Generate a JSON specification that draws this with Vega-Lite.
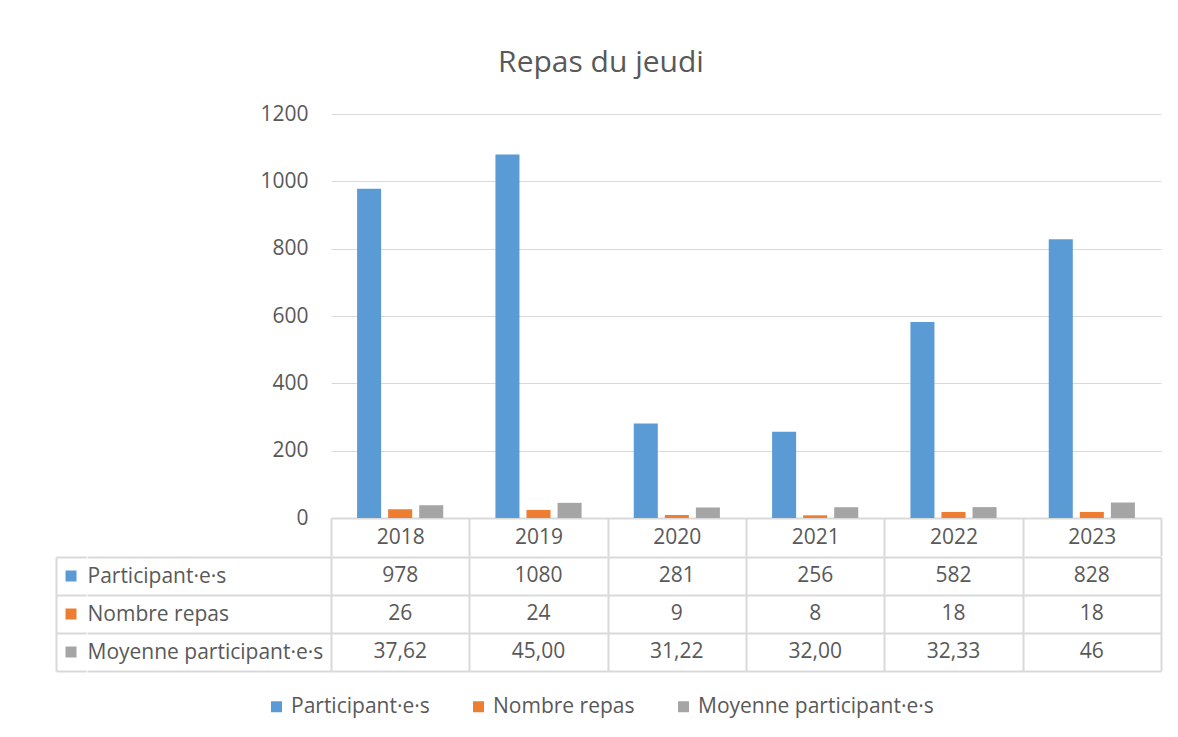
{
  "$schema": "https://vega.github.io/schema/vega-lite/v6.json",
  "padding": {"left": 56, "top": 48, "right": 10, "bottom": 10},
  "background": "white",
  "title": {"text": "Repas du jeudi", "fontSize": 30, "fontWeight": "normal", "color": "#595959", "anchor": "middle", "offset": 25, "dx": -8, "font": "Open Sans"},
  "datasets": {
    "repas": [
      {"annee": "2018", "serie": "Participant·e·s", "valeur": 978, "texte": "978"},
      {"annee": "2018", "serie": "Nombre repas", "valeur": 26, "texte": "26"},
      {"annee": "2018", "serie": "Moyenne participant·e·s", "valeur": 37.62, "texte": "37,62"},
      {"annee": "2019", "serie": "Participant·e·s", "valeur": 1080, "texte": "1080"},
      {"annee": "2019", "serie": "Nombre repas", "valeur": 24, "texte": "24"},
      {"annee": "2019", "serie": "Moyenne participant·e·s", "valeur": 45.0, "texte": "45,00"},
      {"annee": "2020", "serie": "Participant·e·s", "valeur": 281, "texte": "281"},
      {"annee": "2020", "serie": "Nombre repas", "valeur": 9, "texte": "9"},
      {"annee": "2020", "serie": "Moyenne participant·e·s", "valeur": 31.22, "texte": "31,22"},
      {"annee": "2021", "serie": "Participant·e·s", "valeur": 256, "texte": "256"},
      {"annee": "2021", "serie": "Nombre repas", "valeur": 8, "texte": "8"},
      {"annee": "2021", "serie": "Moyenne participant·e·s", "valeur": 32.0, "texte": "32,00"},
      {"annee": "2022", "serie": "Participant·e·s", "valeur": 582, "texte": "582"},
      {"annee": "2022", "serie": "Nombre repas", "valeur": 18, "texte": "18"},
      {"annee": "2022", "serie": "Moyenne participant·e·s", "valeur": 32.33, "texte": "32,33"},
      {"annee": "2023", "serie": "Participant·e·s", "valeur": 828, "texte": "828"},
      {"annee": "2023", "serie": "Nombre repas", "valeur": 18, "texte": "18"},
      {"annee": "2023", "serie": "Moyenne participant·e·s", "valeur": 46, "texte": "46"}
    ],
    "series": [
      {"serie": "Participant·e·s"},
      {"serie": "Nombre repas"},
      {"serie": "Moyenne participant·e·s"}
    ]
  },
  "vconcat": [
    {
      "hconcat": [
        {
          "width": 30,
          "height": 404,
          "data": {"values": []},
          "mark": {"type": "point", "opacity": 0}
        },
        {
          "width": 830,
          "height": 404,
          "data": {"name": "repas"},
          "mark": {"type": "bar"},
          "encoding": {
            "x": {
              "field": "annee", "type": "ordinal",
              "scale": {"type": "band", "paddingInner": 0, "paddingOuter": 0},
              "axis": {"title": null, "orient": "bottom", "labelAngle": 0, "tickBand": "extent", "ticks": true, "tickSize": 38, "tickColor": "#d9d9d9", "tickWidth": 2, "labelPadding": -19, "labelBaseline": "middle", "labelFontSize": 21, "labelColor": "#595959", "domain": true, "domainColor": "#d9d9d9", "domainWidth": 2, "grid": false}
            },
            "xOffset": {
              "field": "serie", "type": "nominal",
              "sort": ["Participant·e·s", "Nombre repas", "Moyenne participant·e·s"],
              "scale": {"paddingInner": 0.226, "paddingOuter": 0.84}
            },
            "y": {
              "field": "valeur", "type": "quantitative",
              "scale": {"domain": [0, 1200]},
              "axis": {"title": null, "values": [0, 200, 400, 600, 800, 1000, 1200], "format": "d", "ticks": false, "tickSize": 0, "domain": false, "grid": true, "gridColor": "#d9d9d9", "gridWidth": 1, "labelPadding": 23, "labelFontSize": 21, "labelColor": "#595959", "minExtent": 245}
            },
            "color": {
              "field": "serie", "type": "nominal",
              "scale": {"domain": ["Participant·e·s", "Nombre repas", "Moyenne participant·e·s"], "range": ["#5b9bd5", "#ed7d31", "#a5a5a5"]},
              "legend": {"orient": "none", "legendX": 210, "legendY": 582, "direction": "horizontal", "title": null, "symbolType": "square", "symbolSize": 121, "symbolStrokeWidth": 0, "labelFontSize": 21, "labelColor": "#595959", "labelFont": "Open Sans", "labelLimit": 400, "columnPadding": 38, "labelOffset": 4}
            }
          }
        }
      ],
      "spacing": 0
    },
    {
      "hconcat": [
        {
          "width": 30,
          "height": 114,
          "data": {"name": "series"},
          "mark": {"type": "point", "shape": "square", "filled": true, "size": 121, "opacity": 1},
          "encoding": {
            "y": {
              "field": "serie", "type": "nominal",
              "sort": ["Participant·e·s", "Nombre repas", "Moyenne participant·e·s"],
              "scale": {"type": "band", "paddingInner": 0, "paddingOuter": 0},
              "axis": {"title": null, "labels": false, "ticks": false, "domain": true, "domainColor": "#d9d9d9", "domainWidth": 2, "grid": true, "tickBand": "extent", "gridColor": "#d9d9d9", "gridWidth": 2}
            },
            "color": {
              "field": "serie", "type": "nominal",
              "scale": {"domain": ["Participant·e·s", "Nombre repas", "Moyenne participant·e·s"], "range": ["#5b9bd5", "#ed7d31", "#a5a5a5"]},
              "legend": null
            }
          }
        },
        {
          "width": 830,
          "height": 114,
          "data": {"name": "repas"},
          "mark": {"type": "text", "fontSize": 21, "color": "#595959", "font": "Open Sans"},
          "encoding": {
            "x": {
              "field": "annee", "type": "ordinal",
              "scale": {"type": "band", "paddingInner": 0, "paddingOuter": 0},
              "axis": {"title": null, "orient": "bottom", "labels": false, "ticks": false, "domain": false, "grid": true, "tickBand": "extent", "gridColor": "#d9d9d9", "gridWidth": 2}
            },
            "y": {
              "field": "serie", "type": "nominal",
              "sort": ["Participant·e·s", "Nombre repas", "Moyenne participant·e·s"],
              "scale": {"type": "band", "paddingInner": 0, "paddingOuter": 0},
              "axis": {"title": null, "orient": "left", "tickBand": "extent", "ticks": true, "tickSize": 244, "tickColor": "#d9d9d9", "tickWidth": 2, "labelAlign": "left", "labelBaseline": "middle", "labelPadding": 0, "labelFontSize": 21, "labelColor": "#595959", "labelLimit": 300, "domain": false, "grid": true, "gridColor": "#d9d9d9", "gridWidth": 2}
            },
            "text": {"field": "texte", "type": "nominal"}
          }
        }
      ],
      "spacing": 0
    }
  ],
  "spacing": -12,
  "config": {
    "view": {"stroke": null},
    "font": "Open Sans",
    "axis": {"labelFont": "Open Sans"},
    "legend": {"labelFont": "Open Sans"}
  }
}
